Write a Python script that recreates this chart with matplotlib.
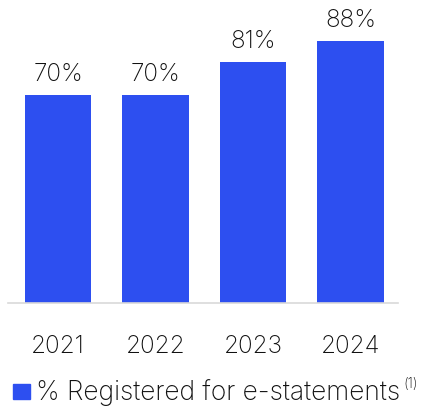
import matplotlib.pyplot as plt
from matplotlib.patches import Rectangle

# Share of customers registered for e-statements, by year
years = ['2021', '2022', '2023', '2024']
registered_pct = [70, 70, 81, 88]

bar_color = '#2d4ff0'
text_color = '#111111'
plt.rcParams['font.family'] = ['Inter', 'DejaVu Sans']
plt.rcParams['font.weight'] = 'light'

fig = plt.figure(figsize=(4.24, 4.09), dpi=100)
ax = fig.add_axes([8 / 424, 106.3 / 409, 390 / 424, 297 / 409])

x = range(len(years))
bars = ax.bar(x, registered_pct, width=0.68, color=bar_color)

# value labels above each bar
for rect, v in zip(bars, registered_pct):
    ax.text(rect.get_x() + rect.get_width() / 2, v + 7, f'{v}%',
            ha='center', va='center', fontsize=17.5, color=text_color)

ax.set_xlim(-0.513, 3.487)
ax.set_ylim(0, 100)
ax.set_yticks([])
ax.set_xticks(list(x))
ax.set_xticklabels(years, fontsize=17.5, color=text_color)
ax.tick_params(axis='x', length=0, pad=23)
for side in ['top', 'right', 'left']:
    ax.spines[side].set_visible(False)
ax.spines['bottom'].set_color('#d9d9d9')
ax.spines['bottom'].set_linewidth(1.2)

# legend: square marker + label with footnote
fig.patches.append(Rectangle((13 / 424, 1 - 399 / 409), 17 / 424, 15 / 409,
                             transform=fig.transFigure, color=bar_color))
fig.text(36 / 424, 1 - 400 / 409, '% Registered for e-statements',
         ha='left', va='baseline', fontsize=19, color=text_color)
fig.text(403 / 424, 1 - 388 / 409, '(1)', ha='left', va='baseline',
         fontsize=10, color=text_color)

fig.savefig('out.png', dpi=100)
